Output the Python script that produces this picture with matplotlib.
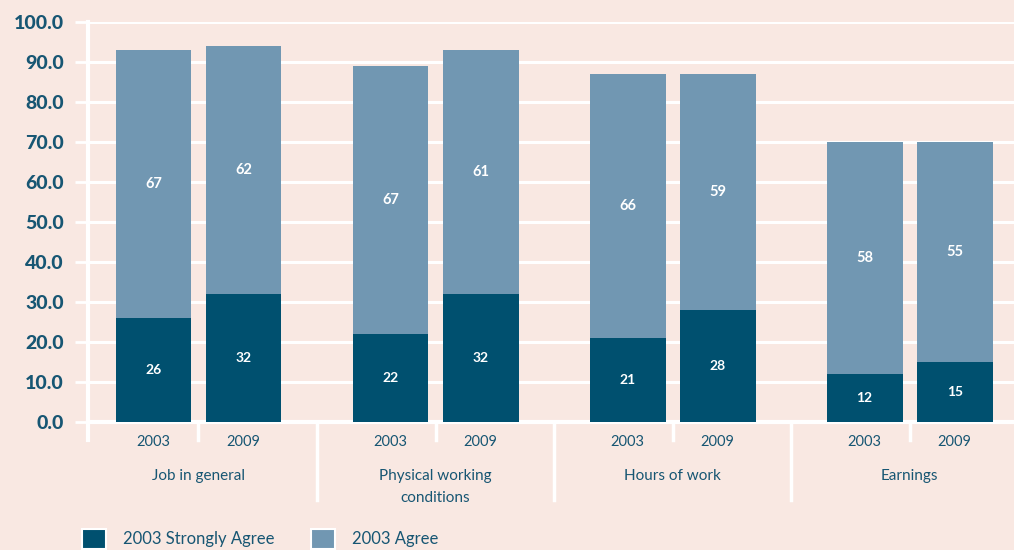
import matplotlib
matplotlib.use("Agg")
import matplotlib.pyplot as plt
from matplotlib.patches import Patch
import numpy as np

categories = ["Job in general", "Physical working\nconditions", "Hours of work", "Earnings"]
years = ["2003", "2009"]
strongly_agree = [[26, 32], [22, 32], [21, 28], [12, 15]]
agree = [[67, 62], [67, 61], [66, 59], [58, 55]]
yticks = [0, 10, 20, 30, 40, 50, 60, 70, 80, 90, 100]
legend_labels = ["2003 Strongly Agree", "2003 Agree"]

BG = "#f9e8e2"
DARK = "#00506f"
LIGHT = "#7197b2"
TXT = "#175673"

plt.rcParams['font.family'] = ['Lato', 'DejaVu Sans']

fig = plt.figure(figsize=(10.14, 5.5), dpi=100, facecolor=BG)
ax = fig.add_axes([88/1014, 1-422/550, 1-88/1014, 400/550])
ax.set_facecolor(BG)

offset = 0.19
width = 0.32
for i, cat in enumerate(categories):
    for j, yr in enumerate(years):
        x = i + (j - 0.5) * 2 * offset
        s = strongly_agree[i][j]
        a = agree[i][j]
        ax.bar(x, s, width=width, color=DARK, zorder=3)
        ax.bar(x, a, bottom=s, width=width, color=LIGHT, zorder=3)
        ax.text(x, s / 2, str(s), color="white", ha="center", va="center",
                fontsize=10, fontweight="bold", zorder=4)
        ax.text(x, s + a / 2, str(a), color="white", ha="center", va="center",
                fontsize=10.5, fontweight="bold", zorder=4)
        ax.text(x, -5, yr, color=TXT, ha="center", va="center", fontsize=10.5,
                clip_on=False)
    ax.text(i, -11.8, cat, color=TXT, ha="center", va="top", fontsize=11,
            linespacing=1.7, clip_on=False)
    # short separator between years
    ax.plot([i, i], [0, -4.5], color="white", lw=2.5, clip_on=False, zorder=2)
    if i < len(categories) - 1:
        ax.plot([i + 0.5, i + 0.5], [0, -19.5], color="white", lw=2.5, clip_on=False, zorder=2)

left = -0.466
ax.set_xlim(left, 3.44)
ax.set_ylim(0, 100)
ax.plot([left, left], [100, -4.5], color="white", lw=3, clip_on=False, zorder=2)

ax.set_yticks(yticks)
ax.set_yticklabels([f"{v:.1f}" for v in yticks])
ax.tick_params(axis="y", colors="white", length=9.5, width=2, direction="out", pad=8)
for lab in ax.get_yticklabels():
    lab.set_color(TXT)
    lab.set_fontweight("black")
    lab.set_fontsize(14)
ax.set_xticks([])
ax.yaxis.grid(True, color="white", lw=2.2, zorder=1)
ax.set_axisbelow(True)
for sp in ax.spines.values():
    sp.set_visible(False)
ax.axhline(0, color="white", lw=3, zorder=2, clip_on=False)

handles = [Patch(facecolor=DARK, edgecolor="white", lw=1.5),
           Patch(facecolor=LIGHT, edgecolor="white", lw=1.5)]
fig.legend(handles, legend_labels, loc="upper left", bbox_to_anchor=(82/1014, 1-529/550),
           ncol=2, frameon=False, fontsize=12, handlelength=1.45, handleheight=1.45,
           handletextpad=1.0, columnspacing=2.2, borderpad=0, borderaxespad=0,
           labelcolor=TXT)

fig.savefig("out.png", dpi=100, facecolor=BG)
